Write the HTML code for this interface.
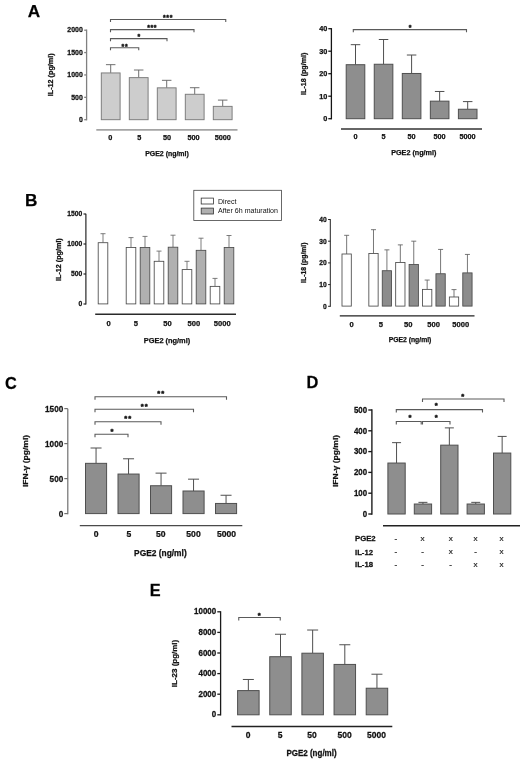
<!DOCTYPE html><html><head><meta charset="utf-8"><style>html,body{margin:0;padding:0;background:#fff}svg{display:block}</style></head><body>
<svg width="520" height="763" viewBox="0 0 520 763" font-family="Liberation Sans, sans-serif">
<defs><filter id="soft" x="0" y="0" width="100%" height="100%" filterUnits="userSpaceOnUse" color-interpolation-filters="sRGB"><feGaussianBlur stdDeviation="0.35"/></filter></defs>
<g filter="url(#soft)">
<rect width="520" height="763" fill="#fff"/>
<text transform="translate(27.8,17.3) scale(1,1.0)" font-size="17.2" font-weight="bold" text-anchor="start" fill="#000" stroke="#111" stroke-width="0.25" >A</text>
<text transform="translate(25,206.4) scale(1,1.0)" font-size="17.2" font-weight="bold" text-anchor="start" fill="#000" stroke="#111" stroke-width="0.25" >B</text>
<text transform="translate(5.1,389.0) scale(1,1.055)" font-size="16.3" font-weight="bold" text-anchor="start" fill="#000" stroke="#111" stroke-width="0.25" >C</text>
<text transform="translate(306.4,388.4) scale(1,1.05)" font-size="16.4" font-weight="bold" text-anchor="start" fill="#000" stroke="#111" stroke-width="0.25" >D</text>
<text transform="translate(149.8,596.4) scale(1,1.055)" font-size="16.3" font-weight="bold" text-anchor="start" fill="#000" stroke="#111" stroke-width="0.25" >E</text>
<line x1="86.6" y1="29.55" x2="86.6" y2="120.35000000000001" stroke="#808080" stroke-width="1.3"/>
<line x1="84.19999999999999" y1="119.7" x2="86.6" y2="119.7" stroke="#808080" stroke-width="1.3"/>
<text transform="translate(82.79999999999998,121.912029) scale(1,1.09)" font-size="6.95" font-weight="bold" text-anchor="end" fill="#111" stroke="#111" stroke-width="0.25" >0</text>
<line x1="84.19999999999999" y1="97.325" x2="86.6" y2="97.325" stroke="#808080" stroke-width="1.3"/>
<text transform="translate(82.79999999999998,99.537029) scale(1,1.09)" font-size="6.95" font-weight="bold" text-anchor="end" fill="#111" stroke="#111" stroke-width="0.25" >500</text>
<line x1="84.19999999999999" y1="74.95" x2="86.6" y2="74.95" stroke="#808080" stroke-width="1.3"/>
<text transform="translate(82.79999999999998,77.162029) scale(1,1.09)" font-size="6.95" font-weight="bold" text-anchor="end" fill="#111" stroke="#111" stroke-width="0.25" >1000</text>
<line x1="84.19999999999999" y1="52.575" x2="86.6" y2="52.575" stroke="#808080" stroke-width="1.3"/>
<text transform="translate(82.79999999999998,54.787029000000004) scale(1,1.09)" font-size="6.95" font-weight="bold" text-anchor="end" fill="#111" stroke="#111" stroke-width="0.25" >1500</text>
<line x1="84.19999999999999" y1="30.200000000000003" x2="86.6" y2="30.200000000000003" stroke="#808080" stroke-width="1.3"/>
<text transform="translate(82.79999999999998,32.412029000000004) scale(1,1.09)" font-size="6.95" font-weight="bold" text-anchor="end" fill="#111" stroke="#111" stroke-width="0.25" >2000</text>
<line x1="110.7" y1="64.6575" x2="110.7" y2="72.93625" stroke="#686868" stroke-width="0.95"/>
<line x1="105.95" y1="64.6575" x2="115.45" y2="64.6575" stroke="#686868" stroke-width="0.95"/>
<rect x="101.3" y="72.93625" width="18.8" height="46.76375" fill="#cdcdcd" stroke="#7a7a7a" stroke-width="0.95"/>
<line x1="138.70000000000002" y1="70.0275" x2="138.70000000000002" y2="77.635" stroke="#686868" stroke-width="0.95"/>
<line x1="133.95000000000002" y1="70.0275" x2="143.45000000000002" y2="70.0275" stroke="#686868" stroke-width="0.95"/>
<rect x="129.3" y="77.635" width="18.8" height="42.065" fill="#cdcdcd" stroke="#7a7a7a" stroke-width="0.95"/>
<line x1="166.70000000000002" y1="80.32000000000001" x2="166.70000000000002" y2="87.83800000000001" stroke="#686868" stroke-width="0.95"/>
<line x1="161.95000000000002" y1="80.32000000000001" x2="171.45000000000002" y2="80.32000000000001" stroke="#686868" stroke-width="0.95"/>
<rect x="157.3" y="87.83800000000001" width="18.8" height="31.861999999999995" fill="#cdcdcd" stroke="#7a7a7a" stroke-width="0.95"/>
<line x1="194.70000000000002" y1="87.70375" x2="194.70000000000002" y2="94.28200000000001" stroke="#686868" stroke-width="0.95"/>
<line x1="189.95000000000002" y1="87.70375" x2="199.45000000000002" y2="87.70375" stroke="#686868" stroke-width="0.95"/>
<rect x="185.3" y="94.28200000000001" width="18.8" height="25.417999999999992" fill="#cdcdcd" stroke="#7a7a7a" stroke-width="0.95"/>
<line x1="222.70000000000002" y1="100.0995" x2="222.70000000000002" y2="106.3645" stroke="#686868" stroke-width="0.95"/>
<line x1="217.95000000000002" y1="100.0995" x2="227.45000000000002" y2="100.0995" stroke="#686868" stroke-width="0.95"/>
<rect x="213.3" y="106.3645" width="18.8" height="13.335499999999996" fill="#cdcdcd" stroke="#7a7a7a" stroke-width="0.95"/>
<line x1="96.3" y1="129.9" x2="237.5" y2="129.9" stroke="#a4a4a4" stroke-width="1.7"/>
<text transform="translate(110.3,140.4) scale(1,1.0)" font-size="7.3" font-weight="bold" text-anchor="middle" fill="#111" stroke="#111" stroke-width="0.25" >0</text>
<text transform="translate(139.2,140.4) scale(1,1.0)" font-size="7.3" font-weight="bold" text-anchor="middle" fill="#111" stroke="#111" stroke-width="0.25" >5</text>
<text transform="translate(167,140.4) scale(1,1.0)" font-size="7.3" font-weight="bold" text-anchor="middle" fill="#111" stroke="#111" stroke-width="0.25" >50</text>
<text transform="translate(193.6,140.4) scale(1,1.0)" font-size="7.3" font-weight="bold" text-anchor="middle" fill="#111" stroke="#111" stroke-width="0.25" >500</text>
<text transform="translate(222.8,140.4) scale(1,1.0)" font-size="7.3" font-weight="bold" text-anchor="middle" fill="#111" stroke="#111" stroke-width="0.25" >5000</text>
<text transform="translate(167,155.9) scale(1,1.0)" font-size="6.95" font-weight="bold" text-anchor="middle" fill="#111" stroke="#111" stroke-width="0.25" >PGE2 (ng/ml)</text>
<text transform="translate(53.3,74.8) rotate(-90) scale(1.0,1)" font-size="7.2" font-weight="bold" text-anchor="middle" fill="#111" stroke="#111" stroke-width="0.25">IL-12 (pg/ml)</text>
<polyline points="110.5,50.300000000000004 110.5,47.7 138.75,47.7 138.75,50.300000000000004" fill="none" stroke="#5a5a5a" stroke-width="1.1"/>
<text x="122.95" y="48.50" font-size="6.9" font-weight="bold" text-anchor="middle" fill="#111" stroke="#111" stroke-width="0.45">*</text>
<text x="126.25" y="48.50" font-size="6.9" font-weight="bold" text-anchor="middle" fill="#111" stroke="#111" stroke-width="0.45">*</text>
<polyline points="110.5,41.2 110.5,38.6 167,38.6 167,41.2" fill="none" stroke="#5a5a5a" stroke-width="1.1"/>
<text x="138.80" y="39.30" font-size="6.9" font-weight="bold" text-anchor="middle" fill="#111" stroke="#111" stroke-width="0.45">*</text>
<polyline points="110.5,32.2 110.5,29.6 194,29.6 194,32.2" fill="none" stroke="#5a5a5a" stroke-width="1.1"/>
<text x="148.50" y="29.70" font-size="6.9" font-weight="bold" text-anchor="middle" fill="#111" stroke="#111" stroke-width="0.45">*</text>
<text x="151.80" y="29.70" font-size="6.9" font-weight="bold" text-anchor="middle" fill="#111" stroke="#111" stroke-width="0.45">*</text>
<text x="155.10" y="29.70" font-size="6.9" font-weight="bold" text-anchor="middle" fill="#111" stroke="#111" stroke-width="0.45">*</text>
<polyline points="110.5,22.1 110.5,19.5 225.75,19.5 225.75,22.1" fill="none" stroke="#5a5a5a" stroke-width="1.1"/>
<text x="164.40" y="19.60" font-size="6.9" font-weight="bold" text-anchor="middle" fill="#111" stroke="#111" stroke-width="0.45">*</text>
<text x="167.70" y="19.60" font-size="6.9" font-weight="bold" text-anchor="middle" fill="#111" stroke="#111" stroke-width="0.45">*</text>
<text x="171.00" y="19.60" font-size="6.9" font-weight="bold" text-anchor="middle" fill="#111" stroke="#111" stroke-width="0.45">*</text>
<line x1="331.4" y1="28.1" x2="331.4" y2="119.35000000000001" stroke="#151515" stroke-width="1.3"/>
<line x1="328.29999999999995" y1="118.7" x2="331.4" y2="118.7" stroke="#151515" stroke-width="1.3"/>
<text transform="translate(327.29999999999995,121.3134) scale(1,1.0)" font-size="7.3" font-weight="bold" text-anchor="end" fill="#111" stroke="#111" stroke-width="0.25" >0</text>
<line x1="328.29999999999995" y1="96.2" x2="331.4" y2="96.2" stroke="#151515" stroke-width="1.3"/>
<text transform="translate(327.29999999999995,98.8134) scale(1,1.0)" font-size="7.3" font-weight="bold" text-anchor="end" fill="#111" stroke="#111" stroke-width="0.25" >10</text>
<line x1="328.29999999999995" y1="73.7" x2="331.4" y2="73.7" stroke="#151515" stroke-width="1.3"/>
<text transform="translate(327.29999999999995,76.3134) scale(1,1.0)" font-size="7.3" font-weight="bold" text-anchor="end" fill="#111" stroke="#111" stroke-width="0.25" >20</text>
<line x1="328.29999999999995" y1="51.2" x2="331.4" y2="51.2" stroke="#151515" stroke-width="1.3"/>
<text transform="translate(327.29999999999995,53.8134) scale(1,1.0)" font-size="7.3" font-weight="bold" text-anchor="end" fill="#111" stroke="#111" stroke-width="0.25" >30</text>
<line x1="328.29999999999995" y1="28.700000000000003" x2="331.4" y2="28.700000000000003" stroke="#151515" stroke-width="1.3"/>
<text transform="translate(327.29999999999995,31.3134) scale(1,1.0)" font-size="7.3" font-weight="bold" text-anchor="end" fill="#111" stroke="#111" stroke-width="0.25" >40</text>
<line x1="355.5" y1="44.67500000000001" x2="355.5" y2="64.7" stroke="#4f4f4f" stroke-width="1"/>
<line x1="350.75" y1="44.67500000000001" x2="360.25" y2="44.67500000000001" stroke="#4f4f4f" stroke-width="1"/>
<rect x="346.2" y="64.7" width="18.6" height="54.0" fill="#8e8e8e" stroke="#4f4f4f" stroke-width="1"/>
<line x1="383.55" y1="39.5" x2="383.55" y2="64.25" stroke="#4f4f4f" stroke-width="1"/>
<line x1="378.8" y1="39.5" x2="388.3" y2="39.5" stroke="#4f4f4f" stroke-width="1"/>
<rect x="374.25" y="64.25" width="18.6" height="54.45" fill="#8e8e8e" stroke="#4f4f4f" stroke-width="1"/>
<line x1="411.6" y1="55.025" x2="411.6" y2="73.475" stroke="#4f4f4f" stroke-width="1"/>
<line x1="406.85" y1="55.025" x2="416.35" y2="55.025" stroke="#4f4f4f" stroke-width="1"/>
<rect x="402.3" y="73.475" width="18.6" height="45.22500000000001" fill="#8e8e8e" stroke="#4f4f4f" stroke-width="1"/>
<line x1="439.65000000000003" y1="91.47500000000001" x2="439.65000000000003" y2="101.15" stroke="#4f4f4f" stroke-width="1"/>
<line x1="434.90000000000003" y1="91.47500000000001" x2="444.40000000000003" y2="91.47500000000001" stroke="#4f4f4f" stroke-width="1"/>
<rect x="430.35" y="101.15" width="18.6" height="17.549999999999997" fill="#8e8e8e" stroke="#4f4f4f" stroke-width="1"/>
<line x1="467.7" y1="101.60000000000001" x2="467.7" y2="109.25" stroke="#4f4f4f" stroke-width="1"/>
<line x1="462.95" y1="101.60000000000001" x2="472.45" y2="101.60000000000001" stroke="#4f4f4f" stroke-width="1"/>
<rect x="458.4" y="109.25" width="18.6" height="9.450000000000003" fill="#8e8e8e" stroke="#4f4f4f" stroke-width="1"/>
<line x1="341" y1="129" x2="482" y2="129" stroke="#333" stroke-width="1.5"/>
<text transform="translate(355.5,139) scale(1,1.0)" font-size="7.3" font-weight="bold" text-anchor="middle" fill="#111" stroke="#111" stroke-width="0.25" >0</text>
<text transform="translate(383.5,139) scale(1,1.0)" font-size="7.3" font-weight="bold" text-anchor="middle" fill="#111" stroke="#111" stroke-width="0.25" >5</text>
<text transform="translate(411.5,139) scale(1,1.0)" font-size="7.3" font-weight="bold" text-anchor="middle" fill="#111" stroke="#111" stroke-width="0.25" >50</text>
<text transform="translate(439.5,139) scale(1,1.0)" font-size="7.3" font-weight="bold" text-anchor="middle" fill="#111" stroke="#111" stroke-width="0.25" >500</text>
<text transform="translate(467.5,139) scale(1,1.0)" font-size="7.3" font-weight="bold" text-anchor="middle" fill="#111" stroke="#111" stroke-width="0.25" >5000</text>
<text transform="translate(413.8,155) scale(1,1.0)" font-size="7.2" font-weight="bold" text-anchor="middle" fill="#111" stroke="#111" stroke-width="0.25" >PGE2 (ng/ml)</text>
<text transform="translate(305.6,73.8) rotate(-90) scale(1.0,1)" font-size="7.1" font-weight="bold" text-anchor="middle" fill="#111" stroke="#111" stroke-width="0.25">IL-18 (pg/ml)</text>
<polyline points="353.3,32.2 353.3,29.6 466.5,29.6 466.5,32.2" fill="none" stroke="#5a5a5a" stroke-width="1.1"/>
<text x="410.00" y="29.60" font-size="6.9" font-weight="bold" text-anchor="middle" fill="#111" stroke="#111" stroke-width="0.45">*</text>
<line x1="85.9" y1="213.85" x2="85.9" y2="304.55" stroke="#151515" stroke-width="1.1"/>
<line x1="83.5" y1="304.0" x2="85.9" y2="304.0" stroke="#151515" stroke-width="1.1"/>
<text transform="translate(82.2,306.28565499999996) scale(1,1.07)" font-size="6.75" font-weight="bold" text-anchor="end" fill="#111" stroke="#111" stroke-width="0.25" >0</text>
<line x1="83.5" y1="274.0" x2="85.9" y2="274.0" stroke="#151515" stroke-width="1.1"/>
<text transform="translate(82.2,276.28565499999996) scale(1,1.07)" font-size="6.75" font-weight="bold" text-anchor="end" fill="#111" stroke="#111" stroke-width="0.25" >500</text>
<line x1="83.5" y1="244.0" x2="85.9" y2="244.0" stroke="#151515" stroke-width="1.1"/>
<text transform="translate(82.2,246.285655) scale(1,1.07)" font-size="6.75" font-weight="bold" text-anchor="end" fill="#111" stroke="#111" stroke-width="0.25" >1000</text>
<line x1="83.5" y1="214.0" x2="85.9" y2="214.0" stroke="#151515" stroke-width="1.1"/>
<text transform="translate(82.2,216.285655) scale(1,1.07)" font-size="6.75" font-weight="bold" text-anchor="end" fill="#111" stroke="#111" stroke-width="0.25" >1500</text>
<line x1="103.0" y1="233.7" x2="103.0" y2="242.7" stroke="#666" stroke-width="0.85"/>
<line x1="100.5" y1="233.7" x2="105.5" y2="233.7" stroke="#666" stroke-width="0.85"/>
<rect x="98.2" y="242.7" width="9.6" height="61.19999999999999" fill="#fff" stroke="#4a4a4a" stroke-width="0.85"/>
<line x1="131.0" y1="237.59999999999997" x2="131.0" y2="247.49999999999997" stroke="#666" stroke-width="0.85"/>
<line x1="128.5" y1="237.59999999999997" x2="133.5" y2="237.59999999999997" stroke="#666" stroke-width="0.85"/>
<rect x="126.2" y="247.49999999999997" width="9.6" height="56.400000000000006" fill="#fff" stroke="#4a4a4a" stroke-width="0.85"/>
<line x1="145.0" y1="236.39999999999998" x2="145.0" y2="247.49999999999997" stroke="#666" stroke-width="0.85"/>
<line x1="142.5" y1="236.39999999999998" x2="147.5" y2="236.39999999999998" stroke="#666" stroke-width="0.85"/>
<rect x="140.2" y="247.49999999999997" width="9.6" height="56.400000000000006" fill="#b0b0b0" stroke="#4a4a4a" stroke-width="0.85"/>
<line x1="159.0" y1="251.09999999999997" x2="159.0" y2="261.29999999999995" stroke="#666" stroke-width="0.85"/>
<line x1="156.5" y1="251.09999999999997" x2="161.5" y2="251.09999999999997" stroke="#666" stroke-width="0.85"/>
<rect x="154.2" y="261.29999999999995" width="9.6" height="42.60000000000002" fill="#fff" stroke="#4a4a4a" stroke-width="0.85"/>
<line x1="173.0" y1="235.2" x2="173.0" y2="247.2" stroke="#666" stroke-width="0.85"/>
<line x1="170.5" y1="235.2" x2="175.5" y2="235.2" stroke="#666" stroke-width="0.85"/>
<rect x="168.2" y="247.2" width="9.6" height="56.69999999999999" fill="#b0b0b0" stroke="#4a4a4a" stroke-width="0.85"/>
<line x1="187.0" y1="261.29999999999995" x2="187.0" y2="269.58" stroke="#666" stroke-width="0.85"/>
<line x1="184.5" y1="261.29999999999995" x2="189.5" y2="261.29999999999995" stroke="#666" stroke-width="0.85"/>
<rect x="182.2" y="269.58" width="9.6" height="34.31999999999999" fill="#fff" stroke="#4a4a4a" stroke-width="0.85"/>
<line x1="201.0" y1="238.2" x2="201.0" y2="250.32" stroke="#666" stroke-width="0.85"/>
<line x1="198.5" y1="238.2" x2="203.5" y2="238.2" stroke="#666" stroke-width="0.85"/>
<rect x="196.2" y="250.32" width="9.6" height="53.579999999999984" fill="#b0b0b0" stroke="#4a4a4a" stroke-width="0.85"/>
<line x1="215.0" y1="278.4" x2="215.0" y2="286.38" stroke="#666" stroke-width="0.85"/>
<line x1="212.5" y1="278.4" x2="217.5" y2="278.4" stroke="#666" stroke-width="0.85"/>
<rect x="210.2" y="286.38" width="9.6" height="17.519999999999982" fill="#fff" stroke="#4a4a4a" stroke-width="0.85"/>
<line x1="229.0" y1="235.5" x2="229.0" y2="247.49999999999997" stroke="#666" stroke-width="0.85"/>
<line x1="226.5" y1="235.5" x2="231.5" y2="235.5" stroke="#666" stroke-width="0.85"/>
<rect x="224.2" y="247.49999999999997" width="9.6" height="56.400000000000006" fill="#b0b0b0" stroke="#4a4a4a" stroke-width="0.85"/>
<line x1="95.2" y1="314.2" x2="236" y2="314.2" stroke="#2a2a2a" stroke-width="1.5"/>
<text transform="translate(108.6,325.9) scale(1,1.0)" font-size="7.6" font-weight="bold" text-anchor="middle" fill="#111" stroke="#111" stroke-width="0.25" >0</text>
<text transform="translate(135.8,325.9) scale(1,1.0)" font-size="7.6" font-weight="bold" text-anchor="middle" fill="#111" stroke="#111" stroke-width="0.25" >5</text>
<text transform="translate(167.4,325.9) scale(1,1.0)" font-size="7.6" font-weight="bold" text-anchor="middle" fill="#111" stroke="#111" stroke-width="0.25" >50</text>
<text transform="translate(193.8,325.9) scale(1,1.0)" font-size="7.6" font-weight="bold" text-anchor="middle" fill="#111" stroke="#111" stroke-width="0.25" >500</text>
<text transform="translate(222.2,325.9) scale(1,1.0)" font-size="7.6" font-weight="bold" text-anchor="middle" fill="#111" stroke="#111" stroke-width="0.25" >5000</text>
<text transform="translate(167,342.7) scale(1,1.0)" font-size="7.4" font-weight="bold" text-anchor="middle" fill="#111" stroke="#111" stroke-width="0.25" >PGE2 (ng/ml)</text>
<text transform="translate(61.2,259.6) rotate(-90) scale(1.0,1)" font-size="7.2" font-weight="bold" text-anchor="middle" fill="#111" stroke="#111" stroke-width="0.25">IL-12 (pg/ml)</text>
<rect x="193.8" y="190.3" width="87.7" height="30.2" fill="#fff" stroke="#444" stroke-width="0.8"/>
<rect x="201.2" y="198.1" width="12.2" height="5.9" fill="#fff" stroke="#333" stroke-width="0.8"/>
<rect x="201.2" y="208.1" width="12.2" height="5.9" fill="#b0b0b0" stroke="#333" stroke-width="0.8"/>
<text transform="translate(218,204.4) scale(1,1.0)" font-size="7.05" font-weight="normal" text-anchor="start" fill="#111"  >Direct</text>
<text transform="translate(218,212.7) scale(1,1.0)" font-size="7.05" font-weight="normal" text-anchor="start" fill="#111"  >After 6h maturation</text>
<line x1="330.3" y1="219.1" x2="330.3" y2="306.8" stroke="#222" stroke-width="1.0"/>
<line x1="328.1" y1="306.3" x2="330.3" y2="306.3" stroke="#222" stroke-width="1.0"/>
<text transform="translate(326.8,308.842516) scale(1,1.06)" font-size="6.7" font-weight="bold" text-anchor="end" fill="#111" stroke="#111" stroke-width="0.25" >0</text>
<line x1="328.1" y1="284.6" x2="330.3" y2="284.6" stroke="#222" stroke-width="1.0"/>
<text transform="translate(326.8,287.142516) scale(1,1.06)" font-size="6.7" font-weight="bold" text-anchor="end" fill="#111" stroke="#111" stroke-width="0.25" >10</text>
<line x1="328.1" y1="262.90000000000003" x2="330.3" y2="262.90000000000003" stroke="#222" stroke-width="1.0"/>
<text transform="translate(326.8,265.442516) scale(1,1.06)" font-size="6.7" font-weight="bold" text-anchor="end" fill="#111" stroke="#111" stroke-width="0.25" >20</text>
<line x1="328.1" y1="241.20000000000002" x2="330.3" y2="241.20000000000002" stroke="#222" stroke-width="1.0"/>
<text transform="translate(326.8,243.74251600000002) scale(1,1.06)" font-size="6.7" font-weight="bold" text-anchor="end" fill="#111" stroke="#111" stroke-width="0.25" >30</text>
<line x1="328.1" y1="219.5" x2="330.3" y2="219.5" stroke="#222" stroke-width="1.0"/>
<text transform="translate(326.8,222.042516) scale(1,1.06)" font-size="6.7" font-weight="bold" text-anchor="end" fill="#111" stroke="#111" stroke-width="0.25" >40</text>
<line x1="346.65" y1="235.32540000000003" x2="346.65" y2="253.99600000000004" stroke="#606060" stroke-width="0.85"/>
<line x1="344.15" y1="235.32540000000003" x2="349.15" y2="235.32540000000003" stroke="#606060" stroke-width="0.85"/>
<rect x="342.0" y="253.99600000000004" width="9.3" height="52.103999999999985" fill="#fff" stroke="#4a4a4a" stroke-width="0.85"/>
<line x1="373.48999999999995" y1="229.68080000000003" x2="373.48999999999995" y2="253.56180000000003" stroke="#606060" stroke-width="0.85"/>
<line x1="370.98999999999995" y1="229.68080000000003" x2="375.98999999999995" y2="229.68080000000003" stroke="#606060" stroke-width="0.85"/>
<rect x="368.84" y="253.56180000000003" width="9.3" height="52.53819999999999" fill="#fff" stroke="#4a4a4a" stroke-width="0.85"/>
<line x1="386.90999999999997" y1="249.87110000000004" x2="386.90999999999997" y2="270.71270000000004" stroke="#606060" stroke-width="0.85"/>
<line x1="384.40999999999997" y1="249.87110000000004" x2="389.40999999999997" y2="249.87110000000004" stroke="#606060" stroke-width="0.85"/>
<rect x="382.26" y="270.71270000000004" width="9.3" height="35.38729999999998" fill="#8c8c8c" stroke="#4a4a4a" stroke-width="0.85"/>
<line x1="400.33" y1="244.87780000000004" x2="400.33" y2="262.46290000000005" stroke="#606060" stroke-width="0.85"/>
<line x1="397.83" y1="244.87780000000004" x2="402.83" y2="244.87780000000004" stroke="#606060" stroke-width="0.85"/>
<rect x="395.68" y="262.46290000000005" width="9.3" height="43.637099999999975" fill="#fff" stroke="#4a4a4a" stroke-width="0.85"/>
<line x1="413.75" y1="241.18710000000004" x2="413.75" y2="264.4168" stroke="#606060" stroke-width="0.85"/>
<line x1="411.25" y1="241.18710000000004" x2="416.25" y2="241.18710000000004" stroke="#606060" stroke-width="0.85"/>
<rect x="409.1" y="264.4168" width="9.3" height="41.6832" fill="#8c8c8c" stroke="#4a4a4a" stroke-width="0.85"/>
<line x1="427.16999999999996" y1="280.048" x2="427.16999999999996" y2="289.3833" stroke="#606060" stroke-width="0.85"/>
<line x1="424.66999999999996" y1="280.048" x2="429.66999999999996" y2="280.048" stroke="#606060" stroke-width="0.85"/>
<rect x="422.52" y="289.3833" width="9.3" height="16.716700000000003" fill="#fff" stroke="#4a4a4a" stroke-width="0.85"/>
<line x1="440.59" y1="249.43690000000004" x2="440.59" y2="273.75210000000004" stroke="#606060" stroke-width="0.85"/>
<line x1="438.09" y1="249.43690000000004" x2="443.09" y2="249.43690000000004" stroke="#606060" stroke-width="0.85"/>
<rect x="435.94" y="273.75210000000004" width="9.3" height="32.34789999999998" fill="#8c8c8c" stroke="#4a4a4a" stroke-width="0.85"/>
<line x1="454.01" y1="289.60040000000004" x2="454.01" y2="296.9818" stroke="#606060" stroke-width="0.85"/>
<line x1="451.51" y1="289.60040000000004" x2="456.51" y2="289.60040000000004" stroke="#606060" stroke-width="0.85"/>
<rect x="449.36" y="296.9818" width="9.3" height="9.118200000000002" fill="#fff" stroke="#4a4a4a" stroke-width="0.85"/>
<line x1="467.42999999999995" y1="254.4302" x2="467.42999999999995" y2="272.88370000000003" stroke="#606060" stroke-width="0.85"/>
<line x1="464.92999999999995" y1="254.4302" x2="469.92999999999995" y2="254.4302" stroke="#606060" stroke-width="0.85"/>
<rect x="462.78" y="272.88370000000003" width="9.3" height="33.21629999999999" fill="#8c8c8c" stroke="#4a4a4a" stroke-width="0.85"/>
<line x1="339.8" y1="315.9" x2="474.5" y2="315.9" stroke="#222" stroke-width="1.4"/>
<text transform="translate(351.7,327.3) scale(1,1.0)" font-size="7.6" font-weight="bold" text-anchor="middle" fill="#111" stroke="#111" stroke-width="0.25" >0</text>
<text transform="translate(380.8,327.3) scale(1,1.0)" font-size="7.6" font-weight="bold" text-anchor="middle" fill="#111" stroke="#111" stroke-width="0.25" >5</text>
<text transform="translate(408.2,327.3) scale(1,1.0)" font-size="7.6" font-weight="bold" text-anchor="middle" fill="#111" stroke="#111" stroke-width="0.25" >50</text>
<text transform="translate(433.7,327.3) scale(1,1.0)" font-size="7.6" font-weight="bold" text-anchor="middle" fill="#111" stroke="#111" stroke-width="0.25" >500</text>
<text transform="translate(460.7,327.3) scale(1,1.0)" font-size="7.6" font-weight="bold" text-anchor="middle" fill="#111" stroke="#111" stroke-width="0.25" >5000</text>
<text transform="translate(410,342) scale(1,1.0)" font-size="6.8" font-weight="bold" text-anchor="middle" fill="#111" stroke="#111" stroke-width="0.25" >PGE2 (ng/ml)</text>
<text transform="translate(305.6,262.7) rotate(-90) scale(1.0,1)" font-size="6.8" font-weight="bold" text-anchor="middle" fill="#111" stroke="#111" stroke-width="0.25">IL-18 (pg/ml)</text>
<line x1="67.8" y1="408.65" x2="67.8" y2="514.2" stroke="#707070" stroke-width="1.2"/>
<line x1="64.3" y1="513.6" x2="67.8" y2="513.6" stroke="#707070" stroke-width="1.2"/>
<text transform="translate(63.199999999999996,516.571939) scale(1,1.07)" font-size="8.15" font-weight="bold" text-anchor="end" fill="#111" stroke="#111" stroke-width="0.25" >0</text>
<line x1="64.3" y1="478.6" x2="67.8" y2="478.6" stroke="#707070" stroke-width="1.2"/>
<text transform="translate(63.199999999999996,481.57193900000004) scale(1,1.07)" font-size="8.15" font-weight="bold" text-anchor="end" fill="#111" stroke="#111" stroke-width="0.25" >500</text>
<line x1="64.3" y1="443.6" x2="67.8" y2="443.6" stroke="#707070" stroke-width="1.2"/>
<text transform="translate(63.199999999999996,446.57193900000004) scale(1,1.07)" font-size="8.15" font-weight="bold" text-anchor="end" fill="#111" stroke="#111" stroke-width="0.25" >1000</text>
<line x1="64.3" y1="408.6" x2="67.8" y2="408.6" stroke="#707070" stroke-width="1.2"/>
<text transform="translate(63.199999999999996,411.57193900000004) scale(1,1.07)" font-size="8.15" font-weight="bold" text-anchor="end" fill="#111" stroke="#111" stroke-width="0.25" >1500</text>
<line x1="96.05" y1="448.01" x2="96.05" y2="463.34000000000003" stroke="#4f4f4f" stroke-width="1"/>
<line x1="90.55" y1="448.01" x2="101.55" y2="448.01" stroke="#4f4f4f" stroke-width="1"/>
<rect x="85.5" y="463.34000000000003" width="21.1" height="50.25999999999999" fill="#8e8e8e" stroke="#4f4f4f" stroke-width="1"/>
<line x1="128.55" y1="458.79" x2="128.55" y2="474.05" stroke="#4f4f4f" stroke-width="1"/>
<line x1="123.05000000000001" y1="458.79" x2="134.05" y2="458.79" stroke="#4f4f4f" stroke-width="1"/>
<rect x="118.0" y="474.05" width="21.1" height="39.55000000000001" fill="#8e8e8e" stroke="#4f4f4f" stroke-width="1"/>
<line x1="161.05" y1="473.14000000000004" x2="161.05" y2="485.74" stroke="#4f4f4f" stroke-width="1"/>
<line x1="155.55" y1="473.14000000000004" x2="166.55" y2="473.14000000000004" stroke="#4f4f4f" stroke-width="1"/>
<rect x="150.5" y="485.74" width="21.1" height="27.860000000000014" fill="#8e8e8e" stroke="#4f4f4f" stroke-width="1"/>
<line x1="193.55" y1="479.16" x2="193.55" y2="490.99" stroke="#4f4f4f" stroke-width="1"/>
<line x1="188.05" y1="479.16" x2="199.05" y2="479.16" stroke="#4f4f4f" stroke-width="1"/>
<rect x="183.0" y="490.99" width="21.1" height="22.610000000000014" fill="#8e8e8e" stroke="#4f4f4f" stroke-width="1"/>
<line x1="226.05" y1="495.26" x2="226.05" y2="503.45000000000005" stroke="#4f4f4f" stroke-width="1"/>
<line x1="220.55" y1="495.26" x2="231.55" y2="495.26" stroke="#4f4f4f" stroke-width="1"/>
<rect x="215.5" y="503.45000000000005" width="21.1" height="10.149999999999977" fill="#8e8e8e" stroke="#4f4f4f" stroke-width="1"/>
<line x1="79.8" y1="525.5" x2="242.3" y2="525.5" stroke="#4a4a4a" stroke-width="1.25"/>
<text transform="translate(96.2,536.8) scale(1,0.98)" font-size="8.6" font-weight="bold" text-anchor="middle" fill="#111" stroke="#111" stroke-width="0.25" >0</text>
<text transform="translate(128.8,536.8) scale(1,0.98)" font-size="8.6" font-weight="bold" text-anchor="middle" fill="#111" stroke="#111" stroke-width="0.25" >5</text>
<text transform="translate(160.8,536.8) scale(1,0.98)" font-size="8.6" font-weight="bold" text-anchor="middle" fill="#111" stroke="#111" stroke-width="0.25" >50</text>
<text transform="translate(193.5,536.8) scale(1,0.98)" font-size="8.6" font-weight="bold" text-anchor="middle" fill="#111" stroke="#111" stroke-width="0.25" >500</text>
<text transform="translate(226.5,536.8) scale(1,0.98)" font-size="8.6" font-weight="bold" text-anchor="middle" fill="#111" stroke="#111" stroke-width="0.25" >5000</text>
<text transform="translate(160.4,555.8) scale(1,1.0)" font-size="8.4" font-weight="bold" text-anchor="middle" fill="#111" stroke="#111" stroke-width="0.25" >PGE2 (ng/ml)</text>
<text transform="translate(27.9,461) rotate(-90) scale(1.14,1)" font-size="7.5" font-weight="bold" text-anchor="middle" fill="#111" stroke="#111" stroke-width="0.25">IFN-γ (pg/ml)</text>
<polyline points="95,437.25 95,434.25 128,434.25 128,437.25" fill="none" stroke="#5a5a5a" stroke-width="1.1"/>
<text x="112.00" y="433.86" font-size="7.6" font-weight="bold" text-anchor="middle" fill="#111" stroke="#111" stroke-width="0.45">*</text>
<polyline points="95,424.75 95,421.75 161,421.75 161,424.75" fill="none" stroke="#5a5a5a" stroke-width="1.1"/>
<text x="125.75" y="420.86" font-size="7.6" font-weight="bold" text-anchor="middle" fill="#111" stroke="#111" stroke-width="0.45">*</text>
<text x="129.65" y="420.86" font-size="7.6" font-weight="bold" text-anchor="middle" fill="#111" stroke="#111" stroke-width="0.45">*</text>
<polyline points="95,412.25 95,409.25 193.5,409.25 193.5,412.25" fill="none" stroke="#5a5a5a" stroke-width="1.1"/>
<text x="142.35" y="409.36" font-size="7.6" font-weight="bold" text-anchor="middle" fill="#111" stroke="#111" stroke-width="0.45">*</text>
<text x="146.25" y="409.36" font-size="7.6" font-weight="bold" text-anchor="middle" fill="#111" stroke="#111" stroke-width="0.45">*</text>
<polyline points="95,399.75 95,396.75 226.5,396.75 226.5,399.75" fill="none" stroke="#5a5a5a" stroke-width="1.1"/>
<text x="158.85" y="395.86" font-size="7.6" font-weight="bold" text-anchor="middle" fill="#111" stroke="#111" stroke-width="0.45">*</text>
<text x="162.75" y="395.86" font-size="7.6" font-weight="bold" text-anchor="middle" fill="#111" stroke="#111" stroke-width="0.45">*</text>
<line x1="371.9" y1="409.325" x2="371.9" y2="514.675" stroke="#151515" stroke-width="1.35"/>
<line x1="368.29999999999995" y1="514.0" x2="371.9" y2="514.0" stroke="#151515" stroke-width="1.35"/>
<text transform="translate(367.09999999999997,516.782738) scale(1,1.09)" font-size="7.9" font-weight="bold" text-anchor="end" fill="#111" stroke="#111" stroke-width="0.25" >0</text>
<line x1="368.29999999999995" y1="493.2" x2="371.9" y2="493.2" stroke="#151515" stroke-width="1.35"/>
<text transform="translate(367.09999999999997,495.982738) scale(1,1.09)" font-size="7.9" font-weight="bold" text-anchor="end" fill="#111" stroke="#111" stroke-width="0.25" >100</text>
<line x1="368.29999999999995" y1="472.4" x2="371.9" y2="472.4" stroke="#151515" stroke-width="1.35"/>
<text transform="translate(367.09999999999997,475.182738) scale(1,1.09)" font-size="7.9" font-weight="bold" text-anchor="end" fill="#111" stroke="#111" stroke-width="0.25" >200</text>
<line x1="368.29999999999995" y1="451.6" x2="371.9" y2="451.6" stroke="#151515" stroke-width="1.35"/>
<text transform="translate(367.09999999999997,454.382738) scale(1,1.09)" font-size="7.9" font-weight="bold" text-anchor="end" fill="#111" stroke="#111" stroke-width="0.25" >300</text>
<line x1="368.29999999999995" y1="430.8" x2="371.9" y2="430.8" stroke="#151515" stroke-width="1.35"/>
<text transform="translate(367.09999999999997,433.582738) scale(1,1.09)" font-size="7.9" font-weight="bold" text-anchor="end" fill="#111" stroke="#111" stroke-width="0.25" >400</text>
<line x1="368.29999999999995" y1="410.0" x2="371.9" y2="410.0" stroke="#151515" stroke-width="1.35"/>
<text transform="translate(367.09999999999997,412.782738) scale(1,1.09)" font-size="7.9" font-weight="bold" text-anchor="end" fill="#111" stroke="#111" stroke-width="0.25" >500</text>
<line x1="396.54999999999995" y1="442.656" x2="396.54999999999995" y2="463.03999999999996" stroke="#4f4f4f" stroke-width="1"/>
<line x1="392.04999999999995" y1="442.656" x2="401.04999999999995" y2="442.656" stroke="#4f4f4f" stroke-width="1"/>
<rect x="387.9" y="463.03999999999996" width="17.3" height="50.960000000000036" fill="#8e8e8e" stroke="#4f4f4f" stroke-width="1"/>
<line x1="422.94999999999993" y1="502.352" x2="422.94999999999993" y2="504.016" stroke="#4f4f4f" stroke-width="1"/>
<line x1="418.44999999999993" y1="502.352" x2="427.44999999999993" y2="502.352" stroke="#4f4f4f" stroke-width="1"/>
<rect x="414.29999999999995" y="504.016" width="17.3" height="9.98399999999998" fill="#8e8e8e" stroke="#4f4f4f" stroke-width="1"/>
<line x1="449.34999999999997" y1="427.888" x2="449.34999999999997" y2="445.152" stroke="#4f4f4f" stroke-width="1"/>
<line x1="444.84999999999997" y1="427.888" x2="453.84999999999997" y2="427.888" stroke="#4f4f4f" stroke-width="1"/>
<rect x="440.7" y="445.152" width="17.3" height="68.84800000000001" fill="#8e8e8e" stroke="#4f4f4f" stroke-width="1"/>
<line x1="475.74999999999994" y1="502.352" x2="475.74999999999994" y2="504.016" stroke="#4f4f4f" stroke-width="1"/>
<line x1="471.24999999999994" y1="502.352" x2="480.24999999999994" y2="502.352" stroke="#4f4f4f" stroke-width="1"/>
<rect x="467.09999999999997" y="504.016" width="17.3" height="9.98399999999998" fill="#8e8e8e" stroke="#4f4f4f" stroke-width="1"/>
<line x1="502.15" y1="436.416" x2="502.15" y2="453.056" stroke="#4f4f4f" stroke-width="1"/>
<line x1="497.65" y1="436.416" x2="506.65" y2="436.416" stroke="#4f4f4f" stroke-width="1"/>
<rect x="493.5" y="453.056" width="17.3" height="60.94400000000002" fill="#8e8e8e" stroke="#4f4f4f" stroke-width="1"/>
<line x1="383" y1="525.8" x2="520" y2="525.8" stroke="#222" stroke-width="1.5"/>
<text transform="translate(337.7,461) rotate(-90) scale(1.14,1)" font-size="7.5" font-weight="bold" text-anchor="middle" fill="#111" stroke="#111" stroke-width="0.25">IFN-γ (pg/ml)</text>
<polyline points="396.3,424.5 396.3,421.5 421.2,421.5 421.2,424.5" fill="none" stroke="#5a5a5a" stroke-width="1.1"/>
<text x="410.00" y="420.16" font-size="7.6" font-weight="bold" text-anchor="middle" fill="#111" stroke="#111" stroke-width="0.45">*</text>
<polyline points="422.5,424.5 422.5,421.5 450,421.5 450,424.5" fill="none" stroke="#5a5a5a" stroke-width="1.1"/>
<text x="436.30" y="420.16" font-size="7.6" font-weight="bold" text-anchor="middle" fill="#111" stroke="#111" stroke-width="0.45">*</text>
<polyline points="396.3,412.6 396.3,409.6 482.5,409.6 482.5,412.6" fill="none" stroke="#5a5a5a" stroke-width="1.1"/>
<text x="436.30" y="408.46" font-size="7.6" font-weight="bold" text-anchor="middle" fill="#111" stroke="#111" stroke-width="0.45">*</text>
<polyline points="422.5,402.0 422.5,399.0 504,399.0 504,402.0" fill="none" stroke="#5a5a5a" stroke-width="1.1"/>
<text x="462.80" y="399.36" font-size="7.6" font-weight="bold" text-anchor="middle" fill="#111" stroke="#111" stroke-width="0.45">*</text>
<text transform="translate(355,541.1) scale(1,1.04)" font-size="7.75" font-weight="bold" text-anchor="start" fill="#111" stroke="#111" stroke-width="0.25" >PGE2</text>
<text transform="translate(395.8,540.8000000000001) scale(1,1.0)" font-size="8.1" font-weight="normal" text-anchor="middle" fill="#222"  stroke="#222" stroke-width="0.2">-</text>
<text transform="translate(422.5,540.8000000000001) scale(1,1.0)" font-size="8.1" font-weight="normal" text-anchor="middle" fill="#222"  stroke="#222" stroke-width="0.2">x</text>
<text transform="translate(450.7,540.8000000000001) scale(1,1.0)" font-size="8.1" font-weight="normal" text-anchor="middle" fill="#222"  stroke="#222" stroke-width="0.2">x</text>
<text transform="translate(475.5,540.8000000000001) scale(1,1.0)" font-size="8.1" font-weight="normal" text-anchor="middle" fill="#222"  stroke="#222" stroke-width="0.2">x</text>
<text transform="translate(501.6,540.8000000000001) scale(1,1.0)" font-size="8.1" font-weight="normal" text-anchor="middle" fill="#222"  stroke="#222" stroke-width="0.2">x</text>
<text transform="translate(355,554.5) scale(1,1.04)" font-size="7.75" font-weight="bold" text-anchor="start" fill="#111" stroke="#111" stroke-width="0.25" >IL-12</text>
<text transform="translate(395.8,554.2) scale(1,1.0)" font-size="8.1" font-weight="normal" text-anchor="middle" fill="#222"  stroke="#222" stroke-width="0.2">-</text>
<text transform="translate(422.5,554.2) scale(1,1.0)" font-size="8.1" font-weight="normal" text-anchor="middle" fill="#222"  stroke="#222" stroke-width="0.2">-</text>
<text transform="translate(450.7,554.2) scale(1,1.0)" font-size="8.1" font-weight="normal" text-anchor="middle" fill="#222"  stroke="#222" stroke-width="0.2">x</text>
<text transform="translate(475.5,554.2) scale(1,1.0)" font-size="8.1" font-weight="normal" text-anchor="middle" fill="#222"  stroke="#222" stroke-width="0.2">-</text>
<text transform="translate(501.6,554.2) scale(1,1.0)" font-size="8.1" font-weight="normal" text-anchor="middle" fill="#222"  stroke="#222" stroke-width="0.2">x</text>
<text transform="translate(355,567.4) scale(1,1.04)" font-size="7.75" font-weight="bold" text-anchor="start" fill="#111" stroke="#111" stroke-width="0.25" >IL-18</text>
<text transform="translate(395.8,567.1) scale(1,1.0)" font-size="8.1" font-weight="normal" text-anchor="middle" fill="#222"  stroke="#222" stroke-width="0.2">-</text>
<text transform="translate(422.5,567.1) scale(1,1.0)" font-size="8.1" font-weight="normal" text-anchor="middle" fill="#222"  stroke="#222" stroke-width="0.2">-</text>
<text transform="translate(450.7,567.1) scale(1,1.0)" font-size="8.1" font-weight="normal" text-anchor="middle" fill="#222"  stroke="#222" stroke-width="0.2">-</text>
<text transform="translate(475.5,567.1) scale(1,1.0)" font-size="8.1" font-weight="normal" text-anchor="middle" fill="#222"  stroke="#222" stroke-width="0.2">x</text>
<text transform="translate(501.6,567.1) scale(1,1.0)" font-size="8.1" font-weight="normal" text-anchor="middle" fill="#222"  stroke="#222" stroke-width="0.2">x</text>
<line x1="220.6" y1="611.25" x2="220.6" y2="715.4499999999999" stroke="#1a1a1a" stroke-width="1.3"/>
<line x1="217.29999999999998" y1="714.8" x2="220.6" y2="714.8" stroke="#1a1a1a" stroke-width="1.3"/>
<text transform="translate(216.2,717.473788) scale(1,1.08)" font-size="7.95" font-weight="bold" text-anchor="end" fill="#111" stroke="#111" stroke-width="0.25" >0</text>
<line x1="217.29999999999998" y1="694.1999999999999" x2="220.6" y2="694.1999999999999" stroke="#1a1a1a" stroke-width="1.3"/>
<text transform="translate(216.2,696.873788) scale(1,1.08)" font-size="7.95" font-weight="bold" text-anchor="end" fill="#111" stroke="#111" stroke-width="0.25" >2000</text>
<line x1="217.29999999999998" y1="673.5999999999999" x2="220.6" y2="673.5999999999999" stroke="#1a1a1a" stroke-width="1.3"/>
<text transform="translate(216.2,676.273788) scale(1,1.08)" font-size="7.95" font-weight="bold" text-anchor="end" fill="#111" stroke="#111" stroke-width="0.25" >4000</text>
<line x1="217.29999999999998" y1="653.0" x2="220.6" y2="653.0" stroke="#1a1a1a" stroke-width="1.3"/>
<text transform="translate(216.2,655.6737880000001) scale(1,1.08)" font-size="7.95" font-weight="bold" text-anchor="end" fill="#111" stroke="#111" stroke-width="0.25" >6000</text>
<line x1="217.29999999999998" y1="632.4" x2="220.6" y2="632.4" stroke="#1a1a1a" stroke-width="1.3"/>
<text transform="translate(216.2,635.073788) scale(1,1.08)" font-size="7.95" font-weight="bold" text-anchor="end" fill="#111" stroke="#111" stroke-width="0.25" >8000</text>
<line x1="217.29999999999998" y1="611.8" x2="220.6" y2="611.8" stroke="#1a1a1a" stroke-width="1.3"/>
<text transform="translate(216.2,614.473788) scale(1,1.08)" font-size="7.95" font-weight="bold" text-anchor="end" fill="#111" stroke="#111" stroke-width="0.25" >10000</text>
<line x1="248.35" y1="679.471" x2="248.35" y2="690.5949999999999" stroke="#4f4f4f" stroke-width="1"/>
<line x1="242.85" y1="679.471" x2="253.85" y2="679.471" stroke="#4f4f4f" stroke-width="1"/>
<rect x="237.6" y="690.5949999999999" width="21.5" height="24.20500000000004" fill="#8e8e8e" stroke="#4f4f4f" stroke-width="1"/>
<line x1="280.5" y1="634.2539999999999" x2="280.5" y2="656.708" stroke="#4f4f4f" stroke-width="1"/>
<line x1="275.0" y1="634.2539999999999" x2="286.0" y2="634.2539999999999" stroke="#4f4f4f" stroke-width="1"/>
<rect x="269.75" y="656.708" width="21.5" height="58.091999999999985" fill="#8e8e8e" stroke="#4f4f4f" stroke-width="1"/>
<line x1="312.65" y1="630.031" x2="312.65" y2="653.2059999999999" stroke="#4f4f4f" stroke-width="1"/>
<line x1="307.15" y1="630.031" x2="318.15" y2="630.031" stroke="#4f4f4f" stroke-width="1"/>
<rect x="301.9" y="653.2059999999999" width="21.5" height="61.59400000000005" fill="#8e8e8e" stroke="#4f4f4f" stroke-width="1"/>
<line x1="344.79999999999995" y1="644.76" x2="344.79999999999995" y2="664.433" stroke="#4f4f4f" stroke-width="1"/>
<line x1="339.29999999999995" y1="644.76" x2="350.29999999999995" y2="644.76" stroke="#4f4f4f" stroke-width="1"/>
<rect x="334.04999999999995" y="664.433" width="21.5" height="50.36699999999996" fill="#8e8e8e" stroke="#4f4f4f" stroke-width="1"/>
<line x1="376.95" y1="674.218" x2="376.95" y2="688.226" stroke="#4f4f4f" stroke-width="1"/>
<line x1="371.45" y1="674.218" x2="382.45" y2="674.218" stroke="#4f4f4f" stroke-width="1"/>
<rect x="366.2" y="688.226" width="21.5" height="26.573999999999955" fill="#8e8e8e" stroke="#4f4f4f" stroke-width="1"/>
<line x1="231.5" y1="726.5" x2="392.3" y2="726.5" stroke="#222" stroke-width="1.5"/>
<text transform="translate(248,737.8) scale(1,1.04)" font-size="8.5" font-weight="bold" text-anchor="middle" fill="#111" stroke="#111" stroke-width="0.25" >0</text>
<text transform="translate(280,737.8) scale(1,1.04)" font-size="8.5" font-weight="bold" text-anchor="middle" fill="#111" stroke="#111" stroke-width="0.25" >5</text>
<text transform="translate(312,737.8) scale(1,1.04)" font-size="8.5" font-weight="bold" text-anchor="middle" fill="#111" stroke="#111" stroke-width="0.25" >50</text>
<text transform="translate(344.6,737.8) scale(1,1.04)" font-size="8.5" font-weight="bold" text-anchor="middle" fill="#111" stroke="#111" stroke-width="0.25" >500</text>
<text transform="translate(376.5,737.8) scale(1,1.04)" font-size="8.5" font-weight="bold" text-anchor="middle" fill="#111" stroke="#111" stroke-width="0.25" >5000</text>
<text transform="translate(311.5,756.2) scale(1,1.04)" font-size="8.0" font-weight="bold" text-anchor="middle" fill="#111" stroke="#111" stroke-width="0.25" >PGE2 (ng/ml)</text>
<text transform="translate(177.0,663.5) rotate(-90) scale(1.05,1)" font-size="7.6" font-weight="bold" text-anchor="middle" fill="#111" stroke="#111" stroke-width="0.25">IL-23 (pg/ml)</text>
<polyline points="238.75,620.5 238.75,617.5 280.25,617.5 280.25,620.5" fill="none" stroke="#5a5a5a" stroke-width="1.1"/>
<text x="259.30" y="617.56" font-size="7.6" font-weight="bold" text-anchor="middle" fill="#111" stroke="#111" stroke-width="0.45">*</text>
</g></svg></body></html>
